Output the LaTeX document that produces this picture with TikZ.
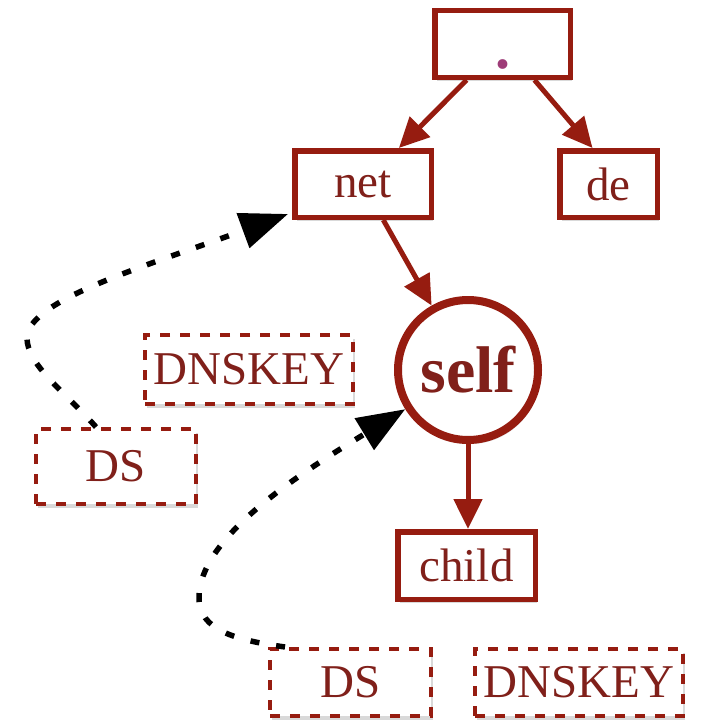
\documentclass[tikz,border=0pt]{standalone}
\usepackage{fontspec}
\setmainfont{Liberation Serif}
\usetikzlibrary{arrows.meta,shadows,calc}
\definecolor{dkred}{RGB}{150,28,16}
\definecolor{txtred}{RGB}{128,32,26}
\definecolor{dotpurple}{RGB}{158,60,120}
\begin{document}
\begin{tikzpicture}[x=1pt,y=-1pt,
  shd/.style={drop shadow={shadow xshift=2pt,shadow yshift=-4pt,opacity=0.15,fill=black}},
  tbox/.style={draw=dkred, line width=5.5pt, fill=white, text=txtred, inner sep=0pt,
    font=\fontsize{47}{50}\selectfont, shd},
  dbox/.style={draw=dkred, line width=4pt, dash pattern=on 10pt off 10pt, fill=white,
    text=txtred, inner sep=0pt, font=\fontsize{47}{50}\selectfont, shd},
  selfnode/.style={circle, draw=dkred, line width=8pt, fill=white, text=txtred, inner sep=0pt,
    font=\fontsize{66}{70}\selectfont\bfseries, minimum size=140pt, shd},
  redarrow/.style={draw=dkred, line width=5pt, -{Triangle[length=30pt,width=28pt]}},
  dasharrow/.style={draw=black, line width=5.5pt, dash pattern=on 9pt off 17pt,
    -{Triangle[length=48pt,width=36pt]}}
]
\useasboundingbox (0,0) rectangle (702,725);
% tree nodes
\node[tbox, minimum width=135.5pt, minimum height=66.5pt] (root) at (502.5,44) {};
\node[text=dotpurple, font=\fontsize{60}{60}\selectfont\bfseries, inner sep=0pt, anchor=base] (rootdot) at (503,68) {.};
\node[tbox, minimum width=136.5pt, minimum height=66.5pt] (net) at (363,184) {net};
\node[tbox, minimum width=97.5pt, minimum height=66.5pt] (de) at (608.5,184) {de};
\node[selfnode] (self) at (468,370) {self};
\node[tbox, minimum width=137.5pt, minimum height=67.5pt] (child) at (466.5,565.5) {child};
% record boxes
\node[dbox, minimum width=208pt, minimum height=69pt] (dnskeyA) at (249,369.5) {DNSKEY};
\node[dbox, minimum width=160pt, minimum height=75pt] (dsA) at (116,466.5) {DS};
\node[dbox, minimum width=161pt, minimum height=67pt] (dsB) at (350.5,682.5) {DS};
\node[dbox, minimum width=208pt, minimum height=67pt] (dnskeyB) at (579,682.5) {DNSKEY};
% tree arrows
\draw[redarrow] (root) -- (net);
\draw[redarrow] ($(root.south)+(32,0)$) -- ($(de.north)+(-16,0)$);
\draw[redarrow] (net) -- (self);
\draw[redarrow] (self.south) -- (self.south |- child.north);
% dashed trust arrows
\draw[dasharrow] ($(dsA.north)+(-20,0)$) .. controls (65,392) and (27,365) .. (27,338)
  .. controls (27,300) and (147,266) .. ($(net.south west)+(-4,-6)$);
\draw[dasharrow] ($(dsB.north west)+(17,0)$) .. controls (235,640) and (199,630) .. (199,598)
  .. controls (199,540) and (289,480) .. (self.212);
\end{tikzpicture}
\end{document}
